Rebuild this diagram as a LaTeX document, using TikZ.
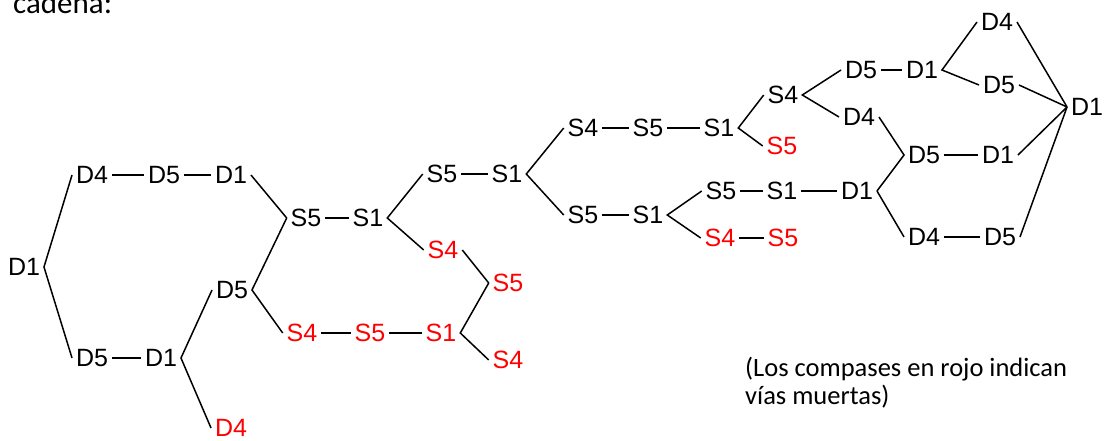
\documentclass[tikz,border=0pt]{standalone}
\usepackage{fontspec}
\setmainfont{Liberation Sans}
\newfontfamily\notefont{Carlito}
\begin{document}
\begin{tikzpicture}[x=1pt,y=-1pt,
  lbl/.style={font=\fontsize{25}{25}\selectfont, inner sep=4pt, outer sep=0pt,
              text height=17.9pt, text depth=0pt},
  dead/.style={lbl, text=red},
  link/.style={line width=1.5pt, black},
  note/.style={font=\notefont\fontsize{26.5}{26.5}\selectfont, anchor=base west, inner sep=0pt}]
\useasboundingbox (0,0) rectangle (1108,441);

\node[note, font=\notefont\fontsize{31}{31}\selectfont] (cad) at (13,14) {cadena:};

% left loop
\node[lbl]  (a1) at (24,267)  {D1};
\node[lbl]  (a2) at (92,175)  {D4};
\node[lbl]  (a3) at (164,175) {D5};
\node[lbl]  (a4) at (231,175) {D1};
\node[lbl]  (a5) at (92,358)  {D5};
\node[lbl]  (a6) at (161,358) {D1};
\node[lbl]  (a7) at (232,290) {D5};
\node[dead] (a8) at (231,428) {D4};

% middle block
\node[lbl]  (b1) at (306,218) {S5};
\node[lbl]  (b2) at (368,218) {S1};
\node[dead] (b3) at (302,333) {S4};
\node[dead] (b4) at (370,333) {S5};
\node[dead] (b5) at (441,333) {S1};
\node[dead] (b6) at (508,360) {S4};
\node[dead] (b7) at (443,250) {S4};
\node[dead] (b8) at (508,283) {S5};
\node[lbl]  (c1) at (442,174) {S5};
\node[lbl]  (c2) at (507,174) {S1};

% upper branch
\node[lbl]  (d1) at (583,128) {S4};
\node[lbl]  (d2) at (648,128) {S5};
\node[lbl]  (d3) at (719,128) {S1};
\node[dead] (d4) at (782,146) {S5};
\node[lbl]  (d5) at (783,95)  {S4};

% lower branch
\node[lbl]  (e1) at (583,215) {S5};
\node[lbl]  (e2) at (648,215) {S1};
\node[lbl]  (e3) at (721,191) {S5};
\node[lbl]  (e4) at (782,191) {S1};
\node[dead] (e5) at (720,238) {S4};
\node[dead] (e6) at (783,238) {S5};

% right loop
\node[lbl]  (f1) at (861,70)   {D5};
\node[lbl]  (f2) at (922,70)   {D1};
\node[lbl]  (f3) at (997,22)   {D4};
\node[lbl]  (f4) at (999,85)   {D5};
\node[lbl]  (f5) at (859,117)  {D4};
\node[lbl]  (f6) at (924,155)  {D5};
\node[lbl]  (f7) at (998,155)  {D1};
\node[lbl]  (f8) at (857,191)  {D1};
\node[lbl]  (f9) at (924,237)  {D4};
\node[lbl]  (f10) at (1000,237) {D5};
\node[lbl]  (g)  at (1087,107) {D1};

% connectors
\draw[link] (a2.west) -- (a1.east) -- (a5.west);
\draw[link] (a2) -- (a3);
\draw[link] (a3) -- (a4);
\draw[link] (a4.east) -- (b1.west);
\draw[link] (a5) -- (a6);
\draw[link] (a7.west) -- (a6.east) -- (a8.west);
\draw[link] (b1.west) -- (a7.east) -- (b3.west);
\draw[link] (b1) -- (b2);
\draw[link] (c1.west) -- (b2.east) -- (b7.west);
\draw[link] (b3) -- (b4);
\draw[link] (b4) -- (b5);
\draw[link] (b8.west) -- (b5.east) -- (b6.west);
\draw[link] (b7.east) -- (b8.west);
\draw[link] (c1) -- (c2);
\draw[link] (d1.west) -- (c2.east) -- (e1.west);
\draw[link] (d1) -- (d2);
\draw[link] (d2) -- (d3);
\draw[link] (d5.west) -- (d3.east) -- (d4.west);
\draw[link] (f1.west) -- (d5.east) -- (f5.west);
\draw[link] (f1) -- (f2);
\draw[link] (f3.west) -- (f2.east) -- (f4.west);
\draw[link] (f3.east) -- (g.west);
\draw[link] (f4.east) -- (g.west);
\draw[link] (f7.east) -- (g.west);
\draw[link] (f10.east) -- (g.west);
\draw[link] (e1) -- (e2);
\draw[link] (e3.west) -- (e2.east) -- (e5.west);
\draw[link] (e3) -- (e4);
\draw[link] (e4) -- (f8);
\draw[link] (e5) -- (e6);
\draw[link] (f5.east) -- (f6.west) -- (f8.east);
\draw[link] (f8.east) -- (f9.west);
\draw[link] (f6) -- (f7);
\draw[link] (f9) -- (f10);

% legend
\node[note] (n1) at (745,376) {(Los compases en rojo indican};
\node[note] (n2) at (745,404) {vías muertas)};
\end{tikzpicture}
\end{document}
